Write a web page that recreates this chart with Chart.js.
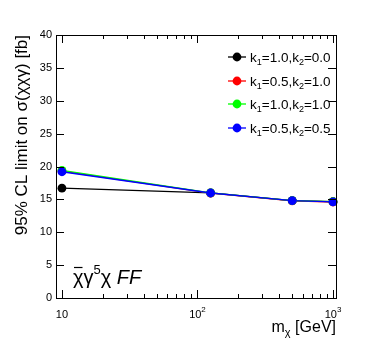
<!DOCTYPE html>
<html><head><meta charset="utf-8">
<script src="https://cdn.jsdelivr.net/npm/chart.js@4/dist/chart.umd.min.js"></script>
<style>html,body{margin:0;padding:0;background:#fff;}canvas{display:block;}</style>
</head><body>
<canvas id="c" width="374" height="351"></canvas>
<script>
const massPoints = [10, 125, 500, 1000];
const limitK10K00 = [16.7, 16.0, 14.8, 14.65];
const limitK05K10 = [19.3, 15.95, 14.78, 14.6];
const limitK10K10 = [19.4, 16.0, 14.82, 14.65];
const limitK05K05 = [19.2, 15.97, 14.8, 14.63];
const seriesLabels = [["1.0","0.0"],["0.5","1.0"],["1.0","1.0"],["0.5","0.5"]];
const seriesColors = ["#000000","#ff0000","#00ff00","#0000ff"];
const yTicks = [0,5,10,15,20,25,30,35,40];
const xMajor = [10,100,1000];
const xMajorLabels = [["10",""],["10","2"],["10","3"]];

const FONT = "'Liberation Sans', Arial, Helvetica, sans-serif";
const allSeries = [limitK10K00, limitK05K10, limitK10K10, limitK05K05];
const datasets = allSeries.map((s,i)=>({
  label: "k1="+seriesLabels[i][0]+",k2="+seriesLabels[i][1],
  data: massPoints.map((m,j)=>({x:m,y:s[j]})),
  borderColor: seriesColors[i], backgroundColor: seriesColors[i],
  borderWidth: 1.3, pointRadius: 4.4, pointHoverRadius: 4.4,
  pointBorderWidth: 0, tension: 0, clip: false, order: 3-i
}));

const decor = {
  id:'decor',
  afterDraw(chart){
    const ctx = chart.ctx, a = chart.chartArea;
    const xs = chart.scales.x, ys = chart.scales.y;
    ctx.save();
    ctx.strokeStyle = '#000'; ctx.lineWidth = 1;
    ctx.strokeRect(Math.round(a.left)+0.5, Math.round(a.top)+0.5, Math.round(a.right-a.left), Math.round(a.bottom-a.top));
    ctx.beginPath();
    yTicks.forEach(v=>{
      const p = Math.round(ys.getPixelForValue(v))+0.5;
      ctx.moveTo(a.left, p); ctx.lineTo(a.left+8, p);
      ctx.moveTo(a.right, p); ctx.lineTo(a.right-8, p);
    });
    for (let d=1; d<=1000; d*=10){
      for (let k=1;k<10;k++){
        const v = d*k;
        if (v < xs.min || v > xs.max) continue;
        const p = Math.round(xs.getPixelForValue(v))+0.5;
        const len = (k===1)?8:4;
        ctx.moveTo(p, a.bottom); ctx.lineTo(p, a.bottom-len);
        ctx.moveTo(p, a.top); ctx.lineTo(p, a.top+len);
      }
    }
    ctx.stroke();
    ctx.fillStyle = '#000';
    ctx.font = "11px "+FONT; ctx.textAlign='right'; ctx.textBaseline='middle';
    yTicks.forEach(v=>{ ctx.fillText(String(v), a.left-4, ys.getPixelForValue(v)); });
    xMajor.forEach((v,i)=>{
      const [b,e] = xMajorLabels[i];
      ctx.font = "11px "+FONT;
      const wb = ctx.measureText(b).width;
      ctx.font = "8px "+FONT;
      const we = e ? ctx.measureText(e).width : 0;
      const x0 = xs.getPixelForValue(v) - (wb+we)/2;
      ctx.textAlign='left'; ctx.textBaseline='alphabetic';
      ctx.font = "11px "+FONT; ctx.fillText(b, x0, 318);
      if (e){ ctx.font = "8px "+FONT; ctx.fillText(e, x0+wb, 312); }
    });
    ctx.font = "16px "+FONT; ctx.textAlign='left';
    const t1='m', t3=' [GeV]';
    const w1=ctx.measureText(t1).width, w3=ctx.measureText(t3).width;
    ctx.font = "11px "+FONT; const w2 = ctx.measureText('χ').width;
    let xx = a.right - (w1+w2+w3);
    ctx.font = "16px "+FONT; ctx.fillText(t1, xx, 332);
    ctx.font = "11px "+FONT; ctx.fillText('χ', xx+w1, 336);
    ctx.font = "16px "+FONT; ctx.fillText(t3, xx+w1+w2, 332);
    ctx.save();
    ctx.translate(27, a.top); ctx.rotate(-Math.PI/2);
    ctx.font = "17px "+FONT; ctx.textAlign='right'; ctx.textBaseline='alphabetic';
    ctx.fillText('95% CL limit on σ(χχγ) [fb]', 0, 0);
    ctx.restore();
    const rows=[57,81,104,128];
    rows.forEach((y,i)=>{
      ctx.strokeStyle=seriesColors[i]; ctx.fillStyle=seriesColors[i]; ctx.lineWidth=1.3;
      ctx.beginPath(); ctx.moveTo(228,y); ctx.lineTo(246,y); ctx.stroke();
      ctx.beginPath(); ctx.arc(237,y,4.4,0,Math.PI*2); ctx.fill();
      ctx.fillStyle='#000'; ctx.textAlign='left'; ctx.textBaseline='alphabetic';
      let x=250; const base=y+5;
      const parts=[['k',0],['1',1],['='+seriesLabels[i][0]+',k',0],['2',1],['='+seriesLabels[i][1],0]];
      parts.forEach(([s,sub])=>{
        ctx.font = (sub?"9px ":"13.5px ")+FONT;
        ctx.fillText(s, x, base+(sub?3:0));
        x += ctx.measureText(s).width;
      });
    });
    ctx.fillStyle='#000'; ctx.strokeStyle='#000';
    let ax=73; const ab=284;
    ctx.font = "20px "+FONT;
    const wc = ctx.measureText('χ').width;
    ctx.fillText('χ', ax, ab);
    ctx.lineWidth=1.2; ctx.beginPath(); ctx.moveTo(ax+1, ab-16.5); ctx.lineTo(ax+wc-1, ab-16.5); ctx.stroke();
    ax += wc;
    ctx.fillText('γ', ax, ab); ax += ctx.measureText('γ').width;
    ctx.font = "13px "+FONT; ctx.fillText('5', ax, ab-10); ax += ctx.measureText('5').width;
    ctx.font = "20px "+FONT; ctx.fillText('χ', ax, ab); ax += ctx.measureText('χ ').width;
    ctx.font = "italic 20px "+FONT; ctx.fillText('FF', ax, ab);
    ctx.restore();
  }
};

new Chart(document.getElementById('c'), {
  type:'line',
  data:{datasets},
  options:{
    responsive:false, animation:false, devicePixelRatio:1,
    layout:{padding:{left:56,right:38,top:35,bottom:53}},
    plugins:{legend:{display:false},tooltip:{enabled:false}},
    scales:{
      x:{type:'logarithmic',min:9.04,max:1052,display:false},
      y:{type:'linear',min:0,max:40,display:false}
    }
  },
  plugins:[decor]
});
</script>
</body></html>
